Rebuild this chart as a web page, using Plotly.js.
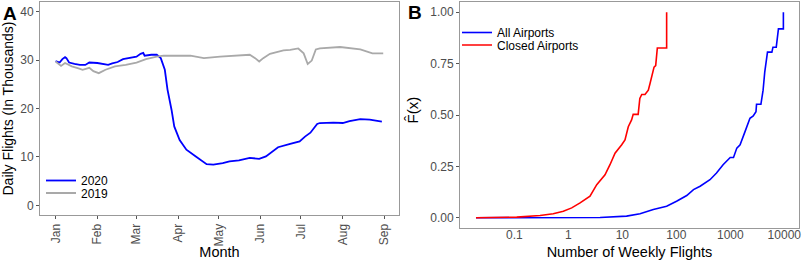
<!DOCTYPE html>
<html>
<head>
<meta charset="utf-8">
<script src="https://cdn.plot.ly/plotly-3.0.1.min.js"></script>
<style>html,body{margin:0;padding:0;background:#fff;}#chart{width:803px;height:260px;}</style>
</head>
<body>
<div id="chart"></div>
<script>
// Panel A: daily flights (thousands), 2019 plotted on the 2020 calendar
const dates2020 = ["2020-01-01","2020-01-04","2020-01-06","2020-01-08","2020-01-09","2020-01-11","2020-01-15","2020-01-19","2020-01-23","2020-01-26","2020-02-01","2020-02-06","2020-02-09","2020-02-12","2020-02-16","2020-02-20","2020-02-25","2020-03-01","2020-03-04","2020-03-06","2020-03-07","2020-03-12","2020-03-16","2020-03-19","2020-03-22","2020-03-24","2020-03-27","2020-03-29","2020-04-02","2020-04-07","2020-04-14","2020-04-18","2020-04-22","2020-04-27","2020-05-04","2020-05-09","2020-05-16","2020-05-24","2020-05-31","2020-06-05","2020-06-14","2020-06-23","2020-06-30","2020-07-04","2020-07-08","2020-07-13","2020-07-15","2020-07-25","2020-08-01","2020-08-06","2020-08-14","2020-08-21","2020-08-30"];
const flights2020 = [29.8,29.5,30.2,30.6,30.4,29.5,29.2,29.0,29.0,29.5,29.4,29.1,29.0,29.3,29.6,30.2,30.4,30.7,31.3,31.5,30.9,31.1,31.1,30.4,28.0,23.9,19.7,16.3,13.5,11.5,10.1,9.3,8.5,8.4,8.7,9.1,9.3,9.8,9.6,10.1,12.0,12.7,13.2,14.2,15.0,16.8,17.0,17.1,17.0,17.4,17.8,17.7,17.3];

const dates2019 = ["2020-01-01","2020-01-03","2020-01-05","2020-01-08","2020-01-13","2020-01-18","2020-01-21","2020-01-26","2020-01-29","2020-02-02","2020-02-07","2020-02-14","2020-02-22","2020-03-01","2020-03-08","2020-03-16","2020-03-21","2020-04-10","2020-04-20","2020-05-02","2020-05-12","2020-05-24","2020-05-28","2020-05-31","2020-06-03","2020-06-08","2020-06-18","2020-06-23","2020-06-29","2020-07-03","2020-07-06","2020-07-09","2020-07-12","2020-07-15","2020-07-30","2020-08-14","2020-08-23","2020-08-31"];
const flights2019 = [29.7,29.2,28.8,29.4,28.7,28.3,28.0,28.4,27.7,27.3,28.0,28.7,29.0,29.5,30.2,30.7,30.9,30.9,30.4,30.7,30.9,31.1,30.4,29.7,30.4,31.3,32.0,32.1,32.4,31.4,29.2,29.9,32.2,32.4,32.7,32.2,31.4,31.4];

const monthTicks = ["2020-01-01","2020-02-01","2020-03-01","2020-04-01","2020-05-01","2020-06-01","2020-07-01","2020-08-01","2020-09-01"];
const monthLabels = ["Jan","Feb","Mar","Apr","May","Jun","Jul","Aug","Sep"];
const yTicksA = [0,10,20,30,40];

const weeklyAll = [0.0195,3.87,12.0,21.3,37.5,66.2,101,156,208,276,420,555,735,996,1146,1319,1517,1745,1872,2310,2658,2988,3058,3687,4048,4341,4880,5885,6165,7092,7430,7786,9610,9610];
const cdfAll =    [0,0.001,0.008,0.019,0.040,0.056,0.080,0.108,0.137,0.153,0.185,0.218,0.258,0.293,0.293,0.339,0.355,0.403,0.419,0.484,0.495,0.516,0.552,0.552,0.621,0.709,0.806,0.806,0.830,0.830,0.887,0.919,0.919,1.0];

const weeklyClosed = [0.0195,0.111,0.300,0.525,0.808,1.155,1.651,2.52,3.36,4.78,5.91,7.33,9.75,11.2,12.9,14.85,15.9,19.65,21.1,22.9,26.3,30.3,32.6,35.0,38.7,41.5,44.5,66.2,66.2];
const cdfClosed =    [0,0.003,0.011,0.019,0.032,0.048,0.072,0.105,0.161,0.209,0.258,0.314,0.355,0.379,0.443,0.476,0.503,0.503,0.581,0.600,0.600,0.621,0.653,0.685,0.733,0.740,0.826,0.826,1.0];

const xTicksB = [0.1,1,10,100,1000,10000];
const xLabelsB = ["0.1","1","10","100","1000","10000"];
const yTicksB = [0,0.25,0.5,0.75,1];

const FONT = "Liberation Sans, Arial, sans-serif";
const W = 803, H = 260;
const px = v => v / W;
const py = v => 1 - v / H;

const traces = [
  {x: dates2020, y: flights2020, type: "scatter", mode: "lines", name: "2020",
   line: {color: "#0000FF", width: 1.8}, xaxis: "x", yaxis: "y", legend: "legend"},
  {x: dates2019, y: flights2019, type: "scatter", mode: "lines", name: "2019",
   line: {color: "#A9A9A9", width: 1.8}, xaxis: "x", yaxis: "y", legend: "legend3"},
  {x: weeklyAll, y: cdfAll, type: "scatter", mode: "lines", name: "All Airports",
   line: {color: "#0000FF", width: 1.6}, xaxis: "x2", yaxis: "y2", legend: "legend2"},
  {x: weeklyClosed, y: cdfClosed, type: "scatter", mode: "lines", name: "Closed Airports",
   line: {color: "#FF0000", width: 1.6}, xaxis: "x2", yaxis: "y2", legend: "legend4"}
];

const axisCommon = {
  showgrid: false, zeroline: false, showline: true, mirror: true,
  linecolor: "#999999", linewidth: 1,
  ticks: "outside", ticklen: 3, tickcolor: "#555555", tickwidth: 1,
  tickfont: {family: FONT, size: 12, color: "#4D4D4D"}
};

const legendCommon = {xanchor: "left", yanchor: "middle", bgcolor: "rgba(0,0,0,0)",
  font: {family: FONT, size: 12, color: "#000"}, itemwidth: 30};

const layout = {
  width: W, height: H,
  margin: {l: 0, r: 0, t: 0, b: 0},
  paper_bgcolor: "#FFFFFF", plot_bgcolor: "#FFFFFF",
  font: {family: FONT, size: 12, color: "#000000"},
  xaxis: Object.assign({}, axisCommon, {
    domain: [px(40), px(399)], anchor: "y", type: "date",
    range: ["2019-12-20 10:00", "2020-09-11 17:00"],
    tickmode: "array", tickvals: monthTicks, ticktext: monthLabels, tickangle: -90,
    title: {text: "Month", font: {family: FONT, size: 14.5, color: "#000"}}
  }),
  yaxis: Object.assign({}, axisCommon, {
    domain: [1 - 215 / H, 1 - 2 / H], anchor: "x",
    range: [-2, 42], tickmode: "array", tickvals: yTicksA,
    title: {text: "Daily Flights (In Thousands)", font: {family: FONT, size: 14, color: "#000"}}
  }),
  xaxis2: Object.assign({}, axisCommon, {
    domain: [px(460), px(799)], anchor: "y2", type: "log",
    range: [-2.006, 4.272], tickmode: "array", tickvals: xTicksB, ticktext: xLabelsB,
    ticks: "", ticklabeloverflow: "allow", ticklabelstandoff: -4,
    title: {text: "Number of Weekly Flights", font: {family: FONT, size: 14.5, color: "#000"}}
  }),
  yaxis2: Object.assign({}, axisCommon, {
    domain: [1 - 228 / H, 1 - 2 / H], anchor: "x2",
    range: [-0.05, 1.05], tickmode: "array", tickvals: yTicksB, tickformat: ".2f"
  }),
  legend: Object.assign({}, legendCommon, {x: px(41), y: py(180.5)}),
  legend3: Object.assign({}, legendCommon, {x: px(41), y: py(193)}),
  legend2: Object.assign({}, legendCommon, {x: px(457), y: py(32.5)}),
  legend4: Object.assign({}, legendCommon, {x: px(457), y: py(45)}),
  annotations: [
    {text: "<b>A</b>", xref: "paper", yref: "paper", x: px(1), y: py(1), xanchor: "left", yanchor: "top",
     showarrow: false, font: {family: FONT, size: 19, color: "#000"}},
    {text: "<b>B</b>", xref: "paper", yref: "paper", x: px(406), y: py(0), xanchor: "left", yanchor: "top",
     showarrow: false, font: {family: FONT, size: 19, color: "#000"}},
    {text: "F\u0302(x)", xref: "paper", yref: "paper", x: px(411.5), y: py(110), xanchor: "center", yanchor: "middle",
     textangle: -90, showarrow: false, font: {family: FONT, size: 15, color: "#000"}}
  ],
  showlegend: true
};

Plotly.newPlot("chart", traces, layout, {displayModeBar: false, staticPlot: true});
</script>
</body>
</html>
